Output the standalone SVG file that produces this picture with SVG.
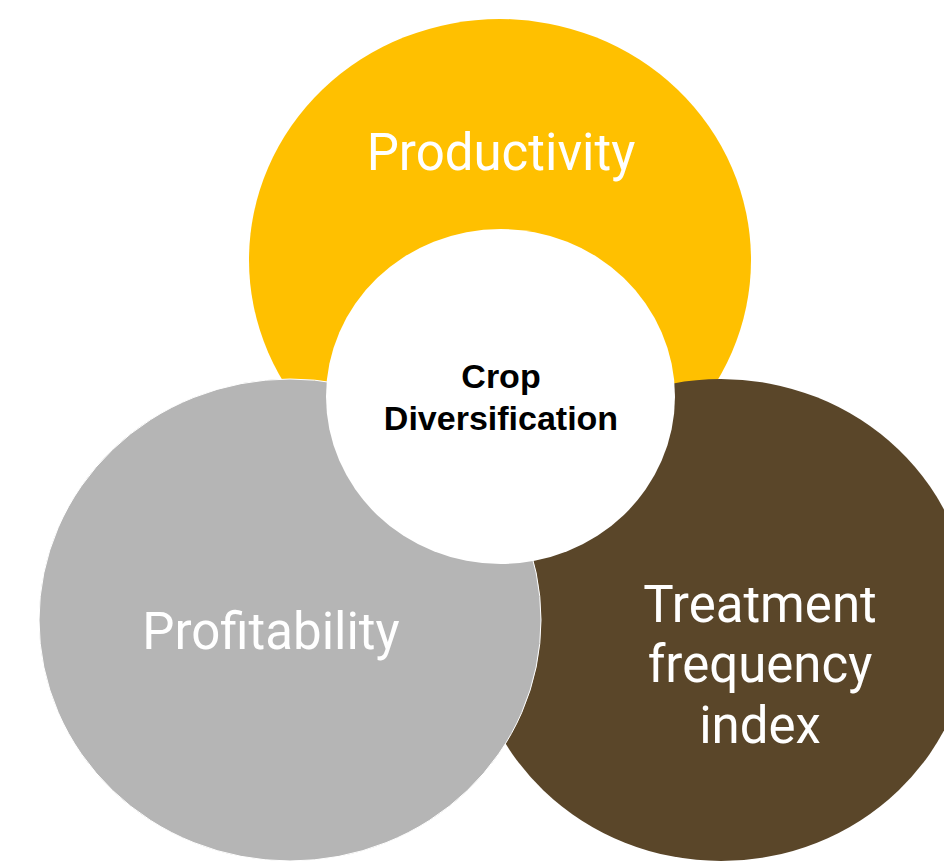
<svg xmlns="http://www.w3.org/2000/svg" width="944" height="863" viewBox="0 0 944 863">
  <style>
    .lbl { font-family: Roboto, "Liberation Sans", sans-serif; font-size: 51px; fill: #FFFFFF; text-anchor: middle; }
    .core { font-family: "Liberation Sans", Arial, sans-serif; font-size: 34px; font-weight: bold; fill: #000000; text-anchor: middle; }
    .edge { stroke: #FFFFFF; stroke-width: 1; }
  </style>
  <rect width="944" height="863" fill="#FFFFFF"/>
  <g id="productivity">
    <ellipse cx="500" cy="260" rx="251" ry="241" fill="#FFC000"/>
    <text class="lbl" x="501" y="170">Productivity</text>
  </g>
  <g id="treatment-frequency-index">
    <ellipse cx="721" cy="620" rx="251" ry="241" fill="#5A4629"/>
    <text class="lbl" x="760" y="622">Treatment</text>
    <text class="lbl" x="760" y="682">frequency</text>
    <text class="lbl" x="760" y="743">index</text>
  </g>
  <g id="profitability">
    <ellipse class="edge" cx="290" cy="620" rx="251" ry="241" fill="#B5B5B5"/>
    <text class="lbl" x="271" y="649">Profitability</text>
  </g>
  <g id="crop-diversification">
    <ellipse cx="500.5" cy="396.5" rx="174.5" ry="167.5" fill="#FFFFFF"/>
    <text class="core" x="501" y="388">Crop</text>
    <text class="core" x="501" y="430">Diversification</text>
  </g>
  <g id="connectors"/>
</svg>
